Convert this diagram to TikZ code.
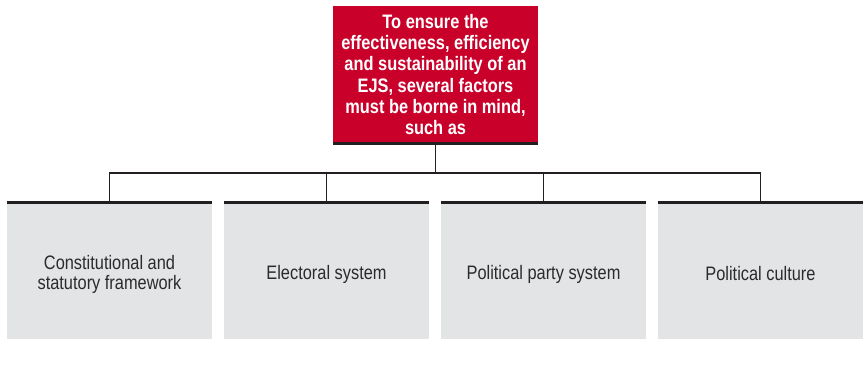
\documentclass[tikz,border=0pt]{standalone}
\usepackage{fontspec}
\setmainfont{Liberation Sans}[FakeStretch=0.84]
\definecolor{ejsred}{HTML}{C8002A}
\definecolor{boxgray}{HTML}{E3E4E6}
\definecolor{darkline}{HTML}{231F20}
\definecolor{txtgray}{HTML}{2B2B2B}
\begin{document}
\begin{tikzpicture}[x=1pt,y=-1pt,
  topbox/.style={fill=ejsred, minimum width=205pt, minimum height=137pt, inner sep=0pt,
    align=center, text=white, font=\fontsize{19.5}{21.3}\selectfont\bfseries},
  factor/.style={fill=boxgray, minimum width=205pt, minimum height=136pt, inner sep=0pt},
  ftext/.style={inner sep=0pt, align=center, text=txtgray, font=\fontsize{19.5}{20}\selectfont},
  conn/.style={draw=darkline, line width=1.3pt},
  topline/.style={draw=darkline, line width=3pt}]
\useasboundingbox (0,0) rectangle (866,376);
\node[topbox] (top) at (435.5,74.5) {To ensure the\\effectiveness, efficiency\\and sustainability of an\\EJS, several factors\\must be borne in mind,\\such as};
\draw[topline] (top.south west) -- (top.south east);
\node[factor] (f1) at (109.5,271) {};
\node[factor] (f2) at (326.5,271) {};
\node[factor] (f3) at (543.5,271) {};
\node[factor] (f4) at (760.5,271) {};
\node[ftext] (t1) at ([yshift=-3pt]f1.center) {Constitutional and\\statutory framework};
\node[ftext] (t2) at ([yshift=-3pt]f2.center) {Electoral system};
\node[ftext] (t3) at ([yshift=-3pt]f3.center) {Political party system};
\node[ftext] (t4) at ([yshift=-3pt]f4.center) {Political culture};
\foreach \n in {f1,f2,f3,f4} {\draw[topline] (\n.north west) -- (\n.north east);}
\coordinate (j) at (top.south |- 0,173);
\draw[conn] (top.south) -- (j);
\draw[conn] (f1.north) |- (j) -| (f4.north);
\draw[conn] (f2.north) -- (f2.north |- j);
\draw[conn] (f3.north) -- (f3.north |- j);
\end{tikzpicture}
\end{document}
